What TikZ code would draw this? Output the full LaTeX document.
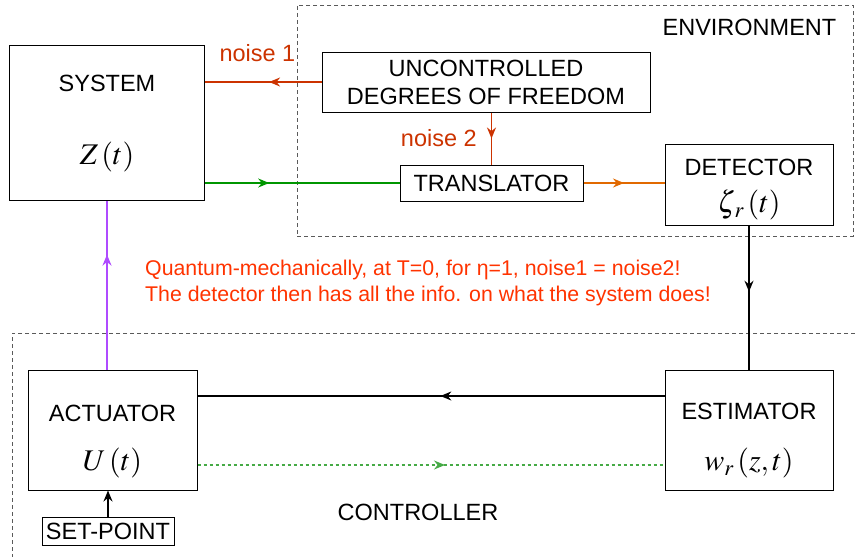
\documentclass[tikz,border=0pt]{standalone}
\usepackage{mathptmx}
\usepackage{fontspec}
\setmainfont{Liberation Sans}
\usetikzlibrary{positioning,calc,arrows.meta,decorations.markings}
\definecolor{noiseColor}{RGB}{204,51,0}
\definecolor{noteColor}{RGB}{255,51,0}
\definecolor{signalOrange}{RGB}{225,105,0}
\definecolor{signalGreen}{RGB}{0,150,0}
\definecolor{ctrlGreen}{RGB}{70,170,70}
\definecolor{actViolet}{RGB}{175,75,255}
\definecolor{frameGray}{RGB}{90,90,90}
\tikzset{
    block/.style={
        draw,
        line width=1pt,
        align=center,
        inner sep=2pt,
        font=\fontsize{23.5}{28}\selectfont
    },
    lbl/.style={
        inner sep=0pt,
        font=\fontsize{23.5}{28}\selectfont
    },
    mathlbl/.style={
        inner sep=0pt,
        font=\fontsize{30}{36}\selectfont
    },
    region/.style={
        draw=frameGray,
        dash pattern=on 4pt off 3pt,
        line width=0.9pt
    },
    sig/.style={
        line width=1.5pt,
        postaction={decorate},
        decoration={markings, mark=at position #1 with {\arrow{Stealth[length=11pt,width=9pt]}}}
    }
}

\begin{document}
\begin{tikzpicture}[x=1pt,y=-1pt]
    \useasboundingbox (0,0) rectangle (855,557);

    % environment and controller frames
    \node[region, minimum width=556pt, minimum height=231pt] (env) at (575,120.5) {};
    \node[lbl, below left=14pt and 17pt of env.north east] (envlbl) {ENVIRONMENT};
    \draw[region] (855,333) -| (12,557);
    \node[lbl] (ctrllbl) at (418,512) {CONTROLLER};

    % blocks
    \node[block, minimum width=195pt, minimum height=155pt] (system) at (107,122.5) {};
    \node[lbl, below=30pt of system.north] (systitle) {SYSTEM};
    \node[mathlbl, above=28pt of system.south] (sysmath) {$Z\left(t\right)$};

    \node[block, minimum width=328pt, minimum height=60pt] (unc) at (486,82) {UNCONTROLLED\\DEGREES OF FREEDOM};
    \node[block, minimum width=183pt, minimum height=36pt] (trans) at (491.5,183) {TRANSLATOR};

    \node[block, minimum width=168pt, minimum height=81pt] (det) at (749,184.5) {};
    \node[lbl, below=15pt of det.north] (dettitle) {DETECTOR};
    \node[mathlbl, above=5pt of det.south] (detmath) {$\zeta_{\,r}\left(t\right)$};

    \node[block, minimum width=169pt, minimum height=120pt] (act) at (112.5,430) {};
    \node[lbl, below=35pt of act.north] (acttitle) {ACTUATOR};
    \node[mathlbl, above=12pt of act.south] (actmath) {$U\left(t\right)$};

    \node[block, minimum width=168pt, minimum height=120pt] (est) at (749,430) {};
    \node[lbl, below=33pt of est.north] (esttitle) {ESTIMATOR};
    \node[mathlbl, above=12pt of est.south] (estmath) {$w_r\left(z,t\right)$};

    \node[block, minimum width=132pt, minimum height=28pt, inner sep=1pt] (setp) at (108,531) {SET-POINT};

    % noise paths
    \draw[sig=0.45, noiseColor] (unc.west) -- (unc.west -| system.east)
        node[lbl, pos=0.55, above=20pt, text=noiseColor] (n1lbl) {noise 1};
    \draw[sig=0.5, noiseColor] (trans.north |- unc.south) -- (trans.north)
        node[lbl, midway, left=14pt, text=noiseColor] (n2lbl) {noise 2};

    % measurement chain
    \draw[sig=0.33, signalGreen] (system.east |- trans.west) -- (trans.west);
    \draw[sig=0.5, signalOrange] (trans.east) -- (trans.east -| det.west);
    \draw[sig=0.46] (det.south) -- (est.north);

    % feedback loop
    \coordinate (fb) at ([yshift=-26.5pt]est.north west);
    \draw[sig=0.48] (fb) -- (fb -| act.east);
    \coordinate (ff) at ([yshift=25.5pt]act.south east);
    \draw[sig=0.53, ctrlGreen, dash pattern=on 3pt off 3pt] (ff) -- (ff -| est.west);
    \draw[sig=0.68, actViolet, line width=1.8pt] (system.south |- act.north) -- (system.south);
    \draw[line width=1.5pt, -{Stealth[length=11pt,width=9pt]}] (setp.north) -- (setp.north |- act.south);

    % remark
    \node[lbl, anchor=west, align=left, text=noteColor, font=\fontsize{21.3}{26}\selectfont] (remark) at (145,283)
        {Quantum-mechanically, at T=0, for η=1, noise1 = noise2!\\The detector then has all the info. on what the system does!};
\end{tikzpicture}
\end{document}
